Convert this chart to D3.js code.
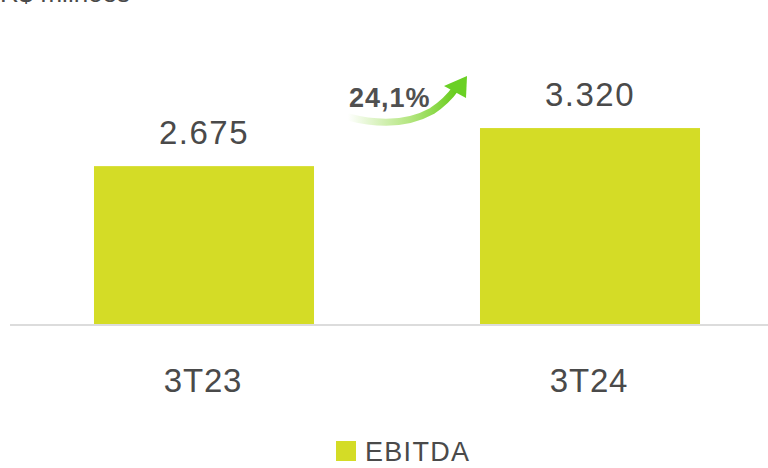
<!DOCTYPE html>
<html>
<head>
<meta charset="utf-8">
<script src="https://cdn.jsdelivr.net/npm/d3@7"></script>
<style>
  body { margin: 0; background: #fff; }
  svg { display: block; font-family: "Liberation Sans", Arial, sans-serif; }
</style>
</head>
<body>
<div id="chart"></div>
<script>
const categories = ["3T23", "3T24"]
const values = [2675, 3320]
const valueLabels = ["2.675", "3.320"]
const growthLabel = "24,1%"
const seriesName = "EBITDA"
const unitLabel = "R$ milhões"

const width = 768
const height = 468
const barColor = "#d4dc26"
const textColor = "#4a4a4a"

const svg = d3.select("#chart")
    .append("svg")
    .attr("width", width)
    .attr("height", height)

// scales
const x = d3.scaleBand()
    .domain(categories)
    .range([11, 783])
    .paddingInner(0.43)
    .paddingOuter(0.215)

const y = d3.scaleLinear()
    .domain([0, 5490])
    .range([324, 0])

// unit label, mostly cut off at the top
svg.append("text")
    .attr("x", 0)
    .attr("y", 2)
    .attr("font-size", 26)
    .attr("fill", textColor)
    .text(unitLabel)

// bars
svg.selectAll(".bar")
    .data(values)
    .enter().append("rect")
    .attr("class", "bar")
    .attr("x", (d, i) => x(categories[i]))
    .attr("width", x.bandwidth())
    .attr("y", d => y(d))
    .attr("height", d => y(0) - y(d))
    .attr("fill", barColor)

// baseline
svg.append("line")
    .attr("x1", 10).attr("x2", width)
    .attr("y1", y(0) + 1).attr("y2", y(0) + 1)
    .attr("stroke", "#dcdcdc")
    .attr("stroke-width", 2)

// value labels
svg.selectAll(".val")
    .data(values)
    .enter().append("text")
    .attr("class", "val")
    .attr("x", (d, i) => x(categories[i]) + x.bandwidth() / 2)
    .attr("y", d => y(d) - 22)
    .attr("text-anchor", "middle")
    .attr("font-size", 33)
    .attr("letter-spacing", 1.5)
    .attr("fill", textColor)
    .text((d, i) => valueLabels[i])

// category axis
const xAxis = svg.append("g")
    .attr("transform", `translate(0,${y(0)})`)
    .call(d3.axisBottom(x).tickSize(0).tickPadding(0))
xAxis.select(".domain").remove()
xAxis.selectAll("text")
    .attr("y", 68)
    .attr("dy", 0)
    .attr("dx", -1)
    .attr("font-size", 33)
    .attr("letter-spacing", 0.8)
    .attr("font-family", "Liberation Sans, Arial, sans-serif")
    .attr("fill", textColor)

// growth arrow
const defs = svg.append("defs")
const grad = defs.append("linearGradient")
    .attr("id", "arrowGrad")
    .attr("x1", "0%").attr("x2", "100%")
    .attr("y1", "0%").attr("y2", "0%")
grad.append("stop").attr("offset", "0%").attr("stop-color", "#7ed321").attr("stop-opacity", 0)
grad.append("stop").attr("offset", "55%").attr("stop-color", "#86d632").attr("stop-opacity", 0.6)
grad.append("stop").attr("offset", "100%").attr("stop-color", "#66cc1a").attr("stop-opacity", 1)

const arrow = svg.append("g")
arrow.append("path")
    .attr("d", "M348,117 Q398,130 432,111 Q447,101 456,88")
    .attr("fill", "none")
    .attr("stroke", "url(#arrowGrad)")
    .attr("stroke-width", 7)
    .attr("stroke-linecap", "round")
arrow.append("path")
    .attr("d", "M467,76 L466,98 L444,86 Z")
    .attr("fill", "#6ad024")

svg.append("text")
    .attr("x", 349)
    .attr("y", 107)
    .attr("font-size", 27)
    .attr("font-weight", "bold")
    .attr("letter-spacing", 1)
    .attr("fill", "#505050")
    .text(growthLabel)

// legend
const legend = svg.append("g").attr("transform", "translate(336,441)")
legend.append("rect")
    .attr("width", 20).attr("height", 20)
    .attr("fill", barColor)
legend.append("text")
    .attr("x", 29)
    .attr("y", 20)
    .attr("font-size", 27)
    .attr("letter-spacing", 1.3)
    .attr("fill", textColor)
    .text(seriesName)
</script>
</body>
</html>
